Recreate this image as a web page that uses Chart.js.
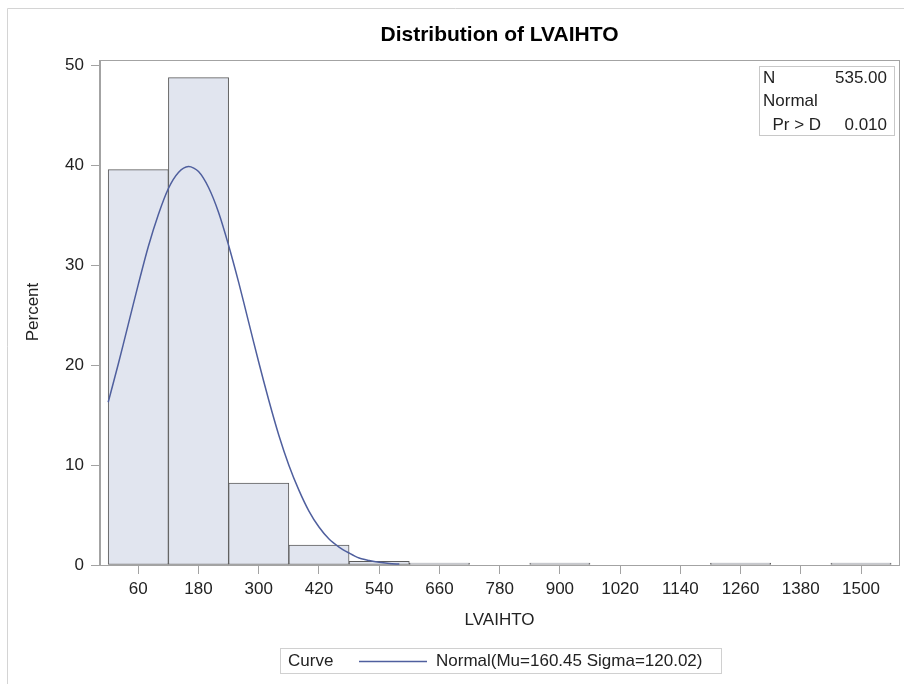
<!DOCTYPE html>
<html>
<head>
<meta charset="utf-8">
<title>Distribution of LVAIHTO</title>
<script src="https://cdn.jsdelivr.net/npm/chart.js@4/dist/chart.umd.min.js"></script>
<style>
  html, body { margin: 0; padding: 0; background: #ffffff; }
  #wrap { width: 904px; height: 684px; position: relative; }
</style>
</head>
<body>
<div id="wrap"><canvas id="c" width="904" height="684"></canvas></div>
<script>
// Histogram bins of LVAIHTO (bin width 120), percent of observations
const binMid = [60, 180, 300, 420, 540, 660, 900, 1260, 1500];
const binPct = [39.6, 48.8, 8.2, 2.0, 0.37, 0.19, 0.19, 0.19, 0.19];

// Fitted normal curve (percent scale)
const curveX = [0, 20, 40, 60, 80, 100, 120, 140, 160, 180, 200, 220, 240, 260, 280,
                300, 320, 340, 360, 380, 400, 420, 440, 460, 480, 500, 520, 540, 560, 580];
const curvePct = [16.3, 20.1, 24.1, 28.1, 31.9, 35.1, 37.7, 39.3, 39.9, 39.4, 37.8, 35.3, 32.0, 28.3, 24.3,
                  20.3, 16.5, 13.0, 10.0, 7.5, 5.4, 3.8, 2.6, 1.8, 1.2, 0.7, 0.45, 0.27, 0.16, 0.09];

// Axis ticks
const xTicks = [60, 180, 300, 420, 540, 660, 780, 900, 1020, 1140, 1260, 1380, 1500];
const yTicks = [0, 10, 20, 30, 40, 50];

// Text
const titleText = 'Distribution of LVAIHTO';
const xTitle = 'LVAIHTO';
const yTitle = 'Percent';
const insetRows = [['N', '535.00'], ['Normal', ''], ['  Pr > D', '0.010']];
const legendHead = 'Curve';
const legendLabel = 'Normal(Mu=160.45 Sigma=120.02)';

const FONT = '"Liberation Sans", Arial, sans-serif';
const AXIS_GRAY = '#a3a3a3';
const CURVE_BLUE = '#4f5f9e';

const decorations = {
  id: 'decorations',
  beforeDraw(chart) {
    const ctx = chart.ctx;
    ctx.save();
    ctx.fillStyle = '#ffffff';
    ctx.fillRect(0, 0, chart.width, chart.height);
    // outer graph frame
    ctx.strokeStyle = '#d4d4d4';
    ctx.lineWidth = 1;
    ctx.beginPath();
    ctx.moveTo(7.5, chart.height);
    ctx.lineTo(7.5, 8.5);
    ctx.lineTo(chart.width, 8.5);
    ctx.stroke();
    ctx.restore();
  },
  afterDraw(chart) {
    const ctx = chart.ctx;
    const a = chart.chartArea;
    ctx.save();
    // plot frame
    ctx.strokeStyle = AXIS_GRAY;
    ctx.lineWidth = 1;
    ctx.strokeRect(Math.round(a.left) - 0.5, Math.round(a.top) + 0.5,
                   Math.round(a.right - a.left) + 1, Math.round(a.bottom - a.top));

    const cx = (a.left + a.right) / 2;
    ctx.fillStyle = '#000000';
    ctx.textAlign = 'center';
    ctx.textBaseline = 'middle';
    ctx.font = 'bold 21px ' + FONT;
    ctx.fillText(titleText, cx, 35);

    ctx.fillStyle = '#222222';
    ctx.font = '17px ' + FONT;
    ctx.fillText(xTitle, cx, 620);

    ctx.save();
    ctx.translate(33, 312);
    ctx.rotate(-Math.PI / 2);
    ctx.fillText(yTitle, 0, 0);
    ctx.restore();

    // inset statistics box
    const bx = 759.5, by = 66.5, bw = 135, bh = 69;
    ctx.fillStyle = '#ffffff';
    ctx.fillRect(bx, by, bw, bh);
    ctx.strokeStyle = '#c8c8c8';
    ctx.strokeRect(bx, by, bw, bh);
    ctx.fillStyle = '#222222';
    ctx.font = '17px ' + FONT;
    insetRows.forEach((r, i) => {
      const y = 78 + i * 23.5;
      ctx.textAlign = 'left';
      ctx.fillText(r[0], 763, y);
      ctx.textAlign = 'right';
      ctx.fillText(r[1], 887, y);
    });

    // legend box
    const lx = 280.5, ly = 648.5, lw = 441, lh = 25;
    ctx.strokeStyle = '#d0d0d0';
    ctx.strokeRect(lx, ly, lw, lh);
    ctx.fillStyle = '#222222';
    ctx.textAlign = 'left';
    ctx.fillText(legendHead, 288, 661);
    ctx.strokeStyle = CURVE_BLUE;
    ctx.lineWidth = 1.5;
    ctx.beginPath();
    ctx.moveTo(359, 661.5);
    ctx.lineTo(427, 661.5);
    ctx.stroke();
    ctx.fillText(legendLabel, 436, 661);
    ctx.restore();
  }
};

new Chart(document.getElementById('c'), {
  data: {
    datasets: [
      {
        type: 'line',
        label: legendLabel,
        data: curveX.map((x, i) => ({ x: x, y: curvePct[i] })),
        borderColor: CURVE_BLUE,
        borderWidth: 1.5,
        pointRadius: 0,
        tension: 0.3,
        fill: false,
        order: 0
      },
      {
        type: 'bar',
        label: 'Percent',
        data: binMid.map((x, i) => ({ x: x, y: binPct[i] })),
        backgroundColor: '#e1e5ef',
        borderColor: '#5c5c5c',
        borderWidth: 1,
        borderSkipped: false,
        barPercentage: 1,
        categoryPercentage: 1,
        order: 1
      }
    ]
  },
  options: {
    responsive: false,
    devicePixelRatio: 1,
    animation: false,
    layout: { padding: { top: 60, right: 5, left: 0, bottom: 0 } },
    plugins: { legend: { display: false }, title: { display: false }, tooltip: { enabled: false } },
    scales: {
      x: {
        type: 'linear',
        min: -16.3,
        max: 1575.7,
        offset: false,
        afterFit(s) { s.height = 119; },
        afterBuildTicks(s) { s.ticks = xTicks.map(v => ({ value: v })); },
        grid: { offset: false, drawOnChartArea: false, drawTicks: true, tickLength: 9, color: AXIS_GRAY },
        border: { display: true, color: AXIS_GRAY },
        ticks: { font: { family: FONT, size: 17 }, color: '#222222', padding: 5, maxRotation: 0, autoSkip: false,
                 callback: v => String(v) }
      },
      y: {
        type: 'linear',
        min: 0,
        max: 50.57,
        afterFit(s) { s.width = 100; },
        afterBuildTicks(s) { s.ticks = yTicks.map(v => ({ value: v })); },
        grid: { drawOnChartArea: false, drawTicks: true, tickLength: 9, color: AXIS_GRAY },
        border: { display: true, color: AXIS_GRAY },
        ticks: { font: { family: FONT, size: 17 }, color: '#222222', padding: 7,
                 callback: v => String(v) }
      }
    }
  },
  plugins: [decorations]
});
</script>
</body>
</html>
